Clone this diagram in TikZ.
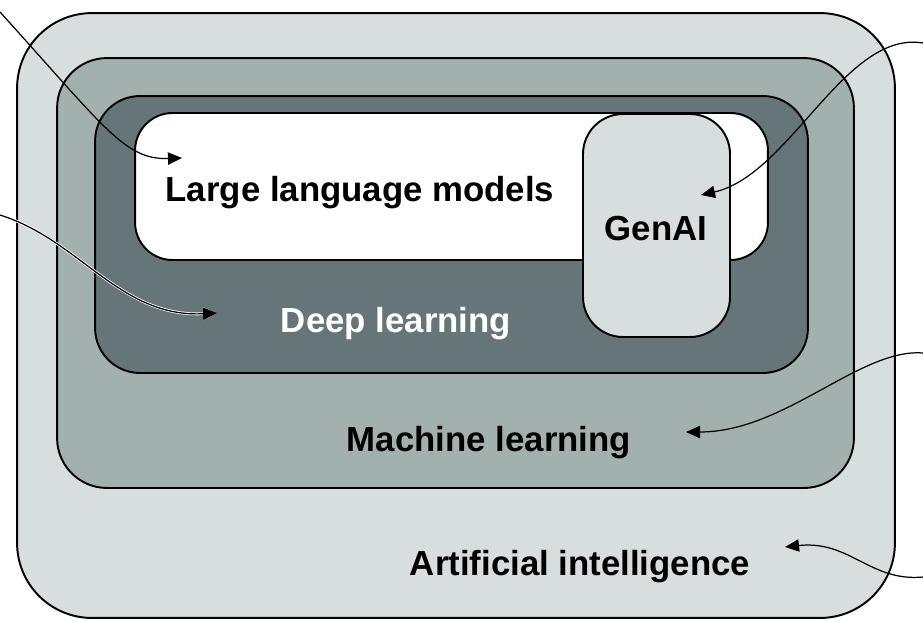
\documentclass[tikz,border=0pt]{standalone}
\usepackage{fontspec}
\setsansfont{Liberation Sans}
\usetikzlibrary{arrows.meta}
\definecolor{PaleGrey}{RGB}{216,222,221}
\definecolor{MidGrey}{RGB}{162,177,174}
\definecolor{DarkSlate}{RGB}{102,118,120}
\tikzset{
  field/.style={draw=black,line width=1.1pt,inner sep=0pt},
  label/.style={font=\sffamily\bfseries\fontsize{19.8}{22}\selectfont,inner sep=0pt},
  pointer/.style={-{Triangle[length=8pt,width=7pt]},line width=0.7pt,black}
}
\begin{document}
\begin{tikzpicture}[x=0.02cm,y=-0.02cm]
\useasboundingbox (0,0) rectangle (923,620);

% Nested fields
\node[field,fill=PaleGrey,rounded corners=1.5cm,
  minimum width=17.56cm,minimum height=12.1cm] (ai) at (456,315.5) {};
\node[field,fill=MidGrey,rounded corners=1cm,
  minimum width=15.94cm,minimum height=8.6cm] (ml) at (455.5,273) {};
\node[field,fill=DarkSlate,rounded corners=0.9cm,
  minimum width=14.26cm,minimum height=5.54cm] (dl) at (451.5,234.5) {};
\node[field,fill=white,rounded corners=0.75cm,
  minimum width=12.66cm,minimum height=2.94cm] (llm) at (451.5,186.5) {};
\node[field,fill=PaleGrey,rounded corners=0.8cm,
  minimum width=2.94cm,minimum height=4.46cm] (genai) at (656.5,225.5) {};

% Labels
\node[label] (llmtext) at (360,193) {Large language models};
\node[label] (genaitext) at (656,229) {GenAI};
\node[label,white] (dltext) at (396,324) {Deep learning};
\node[label] (mltext) at (489,443) {Machine learning};
\node[label] (aitext) at (580,567) {Artificial intelligence};

% Pointers from outside
\coordinate (p1) at (0,12);
\coordinate (t1) at (182,158);
\coordinate (p2) at (0,215);
\coordinate (t2) at (217,313);
\coordinate (p3) at (923,43);
\coordinate (t3) at (701,195);
\coordinate (p4) at (923,353);
\coordinate (t4) at (686,432);
\coordinate (p5) at (923,577);
\coordinate (t5) at (785,547);

\draw[pointer] (p1) .. controls (105,128) and (125,160) .. (t1);
\draw[pointer,preaction={draw=white,line width=1.6pt}]
  (p2) .. controls (80,240) and (120,318) .. (t2);
\draw[pointer] (p3) .. controls (845,30) and (790,175) .. (t3);
\draw[pointer] (p4) .. controls (860,348) and (785,432) .. (t4);
\draw[pointer] (p5) .. controls (870,582) and (850,540) .. (t5);

\end{tikzpicture}
\end{document}
